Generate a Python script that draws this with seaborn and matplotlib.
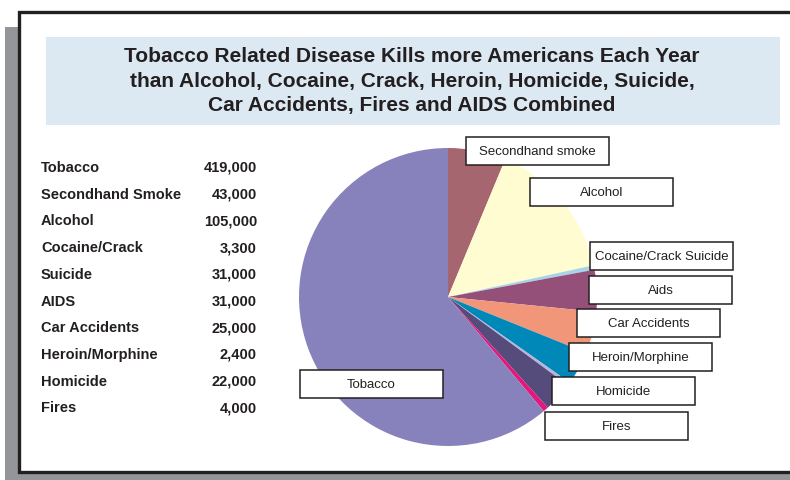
import matplotlib
matplotlib.use("Agg")
import matplotlib.pyplot as plt
from matplotlib.patches import Rectangle
import seaborn as sns

# ---- data ----
causes = ["Tobacco", "Secondhand Smoke", "Alcohol", "Cocaine/Crack", "Suicide",
          "AIDS", "Car Accidents", "Heroin/Morphine", "Homicide", "Fires"]
deaths = [419000, 43000, 105000, 3300, 31000, 31000, 25000, 2400, 22000, 4000]
slice_colors = ["#8882BC", "#A6666F", "#FFFCD2", "#A9D3E6", "#95507A",
                "#F2967A", "#0088B8", "#B4B4DC", "#554C7C", "#E2187D"]
box_labels = ["Tobacco", "Secondhand smoke", "Alcohol", "Cocaine/Crack Suicide",
              "Aids", "Car Accidents", "Heroin/Morphine", "Homicide", "Fires"]
title_lines = ["Tobacco Related Disease Kills more Americans Each Year",
               "than Alcohol, Cocaine, Crack, Heroin, Homicide, Suicide,",
               "Car Accidents, Fires and AIDS Combined"]

# ---- layout (pixel coordinates, y downward) ----
box_pos = [(300, 370), (466, 137), (530, 178), (590, 242), (589, 276),
           (577, 309), (569, 343), (552, 377), (545, 412)]
BOX_W, BOX_H = 143, 28

sns.set_theme(style="white")
plt.rcParams['font.family'] = ['Liberation Sans', 'DejaVu Sans']

W, H = 790, 480
fig = plt.figure(figsize=(W / 100, H / 100), dpi=100)
fig.patch.set_facecolor("white")

bg = fig.add_axes([0, 0, 1, 1])
bg.set_xlim(0, W)
bg.set_ylim(H, 0)
bg.axis("off")

# shadow
bg.add_patch(Rectangle((5, 27), 14, H - 27, facecolor="#939598", edgecolor="none"))
bg.add_patch(Rectangle((5, 471), W, 10, facecolor="#939598", edgecolor="none"))
# frame
bg.add_patch(Rectangle((18.5, 11.5), W + 10, 460, facecolor="white",
                       edgecolor="#231F20", linewidth=2.4))
# title box
bg.add_patch(Rectangle((46, 37), 734, 88, facecolor="#DCE8F2", edgecolor="none"))
for i, line in enumerate(title_lines):
    bg.text(412, 62.5 + 24 * i, line, ha="center", va="baseline",
            fontsize=15, fontweight="bold", color="#231F20")

# table
for i, (c, v) in enumerate(zip(causes, deaths)):
    y = 172 + 26.7 * i
    bg.text(41, y, c, ha="left", va="baseline", fontsize=10.5,
            fontweight="bold", color="#231F20")
    bg.text(257, y, f"{v:,}", ha="right", va="baseline", fontsize=10.5,
            fontweight="bold", color="#231F20")

# pie
cx, cy, r = 448, 297, 149
pa = fig.add_axes([(cx - r) / W, (H - cy - r) / H, 2 * r / W, 2 * r / H])
order = list(range(1, len(deaths))) + [0]
pa.pie([deaths[i] for i in order], colors=[slice_colors[i] for i in order],
       startangle=90, counterclock=False, radius=1,
       wedgeprops=dict(edgecolor="none", linewidth=0))
pa.set_xlim(-1, 1)
pa.set_ylim(-1, 1)
pa.set_aspect("equal")
pa.axis("off")

# label boxes
ov = fig.add_axes([0, 0, 1, 1])
ov.set_xlim(0, W)
ov.set_ylim(H, 0)
ov.axis("off")
ov.patch.set_alpha(0)
for lab, (x0, y0) in zip(box_labels, box_pos):
    ov.add_patch(Rectangle((x0, y0), BOX_W, BOX_H, facecolor="white",
                           edgecolor="#231F20", linewidth=1.1))
    ov.text(x0 + BOX_W / 2, y0 + BOX_H / 2 + 1, lab, ha="center", va="center",
            fontsize=9.5, color="#231F20")

fig.savefig("out.png", dpi=100)
